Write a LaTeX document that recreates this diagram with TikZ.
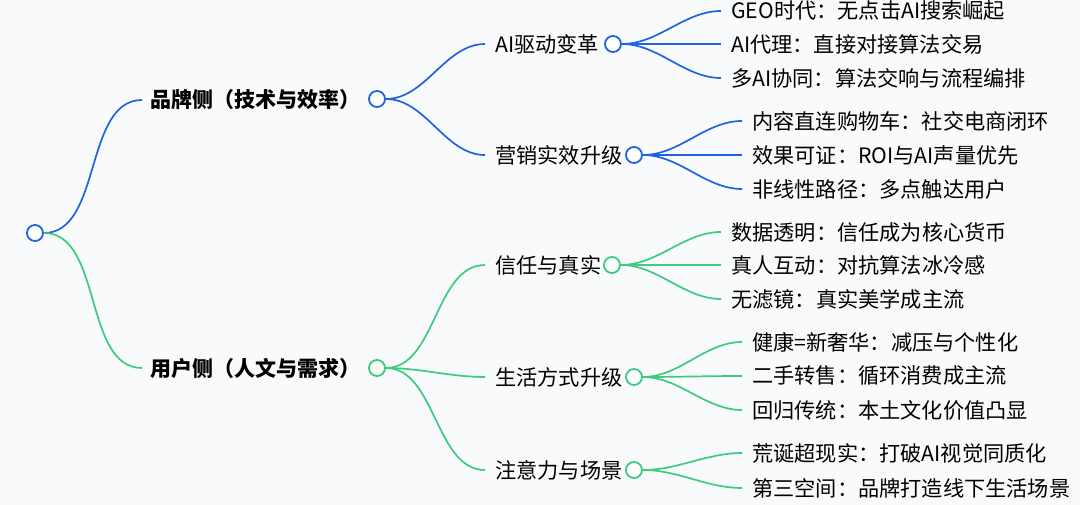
\documentclass[tikz,border=0pt]{standalone}
\usepackage{fontspec}
\setmainfont{Noto Sans CJK SC}
\begin{document}
\begin{tikzpicture}[x=1pt,y=-1pt,
  dot/.style={circle,draw=#1,fill=white,line width=1.8pt,minimum size=16pt,inner sep=0},
  lbl/.style={anchor=west,inner sep=0,font=\fontsize{21.2}{24}\selectfont},
  bl/.style={anchor=west,inner sep=0,font=\fontsize{21}{24}\selectfont\bfseries},
  ln/.style={draw=#1,line width=1.7pt,out=0,in=180,looseness=0.9}]
\definecolor{cb}{HTML}{1F63E0}
\definecolor{cg}{HTML}{3CCB7F}
\fill[fill={rgb,255:red,249;green,250;blue,252}] (0,0) rectangle (1080,505);
\useasboundingbox (0,0) rectangle (1080,505);
% root
\node[dot=cb] (root) at (35,233) {};
% level 1
\node[bl] (b1) at (150,100) {品牌侧（技术与效率）};
\node[dot=cb] (b1c) at (377,99) {};
\node[bl] (u1) at (150,368) {用户侧（人文与需求）};
\node[dot=cg] (u1c) at (377,368) {};
\draw[ln=cb] (root.east) to ([xshift=-8pt]b1.west);
\draw[ln=cg] (root.east) to ([xshift=-8pt]u1.west);
% level 2 blue
\node[lbl] (a) at (495,44) {AI驱动变革};
\node[dot=cb] (ac) at (613,44) {};
\node[lbl] (m) at (495,155) {营销实效升级};
\node[dot=cb] (mc) at (634,155) {};
\draw[ln=cb] (b1c.east) to ([xshift=-10pt]a.west);
\draw[ln=cb] (b1c.east) to ([xshift=-10pt]m.west);
% level 2 green
\node[lbl] (t) at (495,265) {信任与真实};
\node[dot=cg] (tc) at (612,265) {};
\node[lbl] (s) at (495,377) {生活方式升级};
\node[dot=cg] (sc) at (634,377) {};
\node[lbl] (z) at (495,470) {注意力与场景};
\node[dot=cg] (zc) at (634,470) {};
\draw[ln=cg] (u1c.east) to ([xshift=-10pt]t.west);
\draw[ln=cg] (u1c.east) to ([xshift=-10pt]s.west);
\draw[ln=cg] (u1c.east) to ([xshift=-10pt]z.west);
% leaves
\node[lbl] (a1) at (731,11) {GEO时代：无点击AI搜索崛起};
\node[lbl] (a2) at (731,44) {AI代理：直接对接算法交易};
\node[lbl] (a3) at (731,78) {多AI协同：算法交响与流程编排};
\node[lbl] (m1) at (752,121) {内容直连购物车：社交电商闭环};
\node[lbl] (m2) at (752,155) {效果可证：ROI与AI声量优先};
\node[lbl] (m3) at (752,189) {非线性路径：多点触达用户};
\node[lbl] (t1) at (731,232) {数据透明：信任成为核心货币};
\node[lbl] (t2) at (731,265) {真人互动：对抗算法冰冷感};
\node[lbl] (t3) at (731,299) {无滤镜：真实美学成主流};
\node[lbl] (s1) at (752,342) {健康=新奢华：减压与个性化};
\node[lbl] (s2) at (752,376) {二手转售：循环消费成主流};
\node[lbl] (s3) at (752,410) {回归传统：本土文化价值凸显};
\node[lbl] (z1) at (752,453) {荒诞超现实：打破AI视觉同质化};
\node[lbl] (z2) at (752,488) {第三空间：品牌打造线下生活场景};
\foreach \p/\c/\k in {ac/cb/a1,ac/cb/a2,ac/cb/a3,mc/cb/m1,mc/cb/m2,mc/cb/m3,tc/cg/t1,tc/cg/t2,tc/cg/t3,sc/cg/s1,sc/cg/s2,sc/cg/s3,zc/cg/z1,zc/cg/z2}
  \draw[ln=\c] (\p.east) to ([xshift=-10pt]\k.west);
\end{tikzpicture}
\end{document}
